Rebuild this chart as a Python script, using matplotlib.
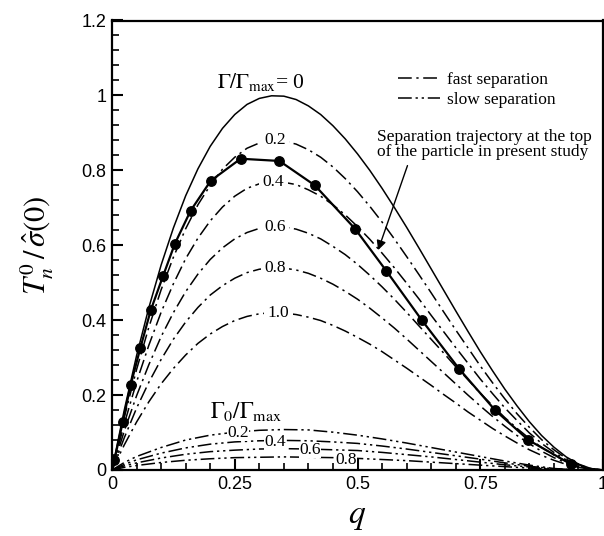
import matplotlib
matplotlib.use("Agg")
import matplotlib.pyplot as plt
import numpy as np
from matplotlib.ticker import MultipleLocator
from matplotlib.lines import Line2D

plt.rcParams['mathtext.fontset'] = 'stix'
plt.rcParams['font.family'] = 'Liberation Sans'

# values, q grid every 0.025
q = np.linspace(0, 1, 41)
t_gamma0 = [0, .160, .305, .433, .547, .646, .732, .804, .864, .912, .949, .976,
            .992, .999, .998, .989, .972, .949, .919, .884, .844, .800, .752,
            .701, .648, .593, .537, .481, .425, .370, .316, .265, .216, .171,
            .129, .092, .061, .035, .016, .004, 0]
t_fast = {
    '0.2': [0, .141, .268, .381, .481, .568, .644, .708, .760, .803, .835, .859,
            .873, .879, .878, .870, .855, .835, .809, .778, .743, .704, .662,
            .617, .570, .522, .473, .423, .374, .326, .278, .233, .190, .150,
            .114, .081, .054, .031, .014, .004, 0],
    '0.4': [0, .123, .235, .333, .421, .497, .564, .619, .665, .702, .731, .752,
            .764, .769, .768, .762, .748, .731, .708, .681, .650, .616, .579,
            .540, .499, .457, .413, .370, .327, .285, .243, .204, .166, .132,
            .099, .071, .047, .027, .012, .003, 0],
    '0.6': [0, .104, .198, .281, .356, .420, .476, .523, .562, .593, .617, .634,
            .645, .649, .649, .643, .632, .617, .597, .575, .549, .520, .489,
            .456, .421, .385, .349, .313, .276, .241, .205, .172, .140, .111,
            .084, .060, .040, .023, .010, .003, 0],
    '0.8': [0, .086, .165, .234, .295, .349, .395, .434, .467, .492, .512, .527,
            .536, .539, .539, .534, .525, .512, .496, .477, .456, .432, .406,
            .379, .350, .320, .290, .260, .230, .200, .171, .143, .117, .092,
            .070, .050, .033, .019, .009, .002, 0],
    '1.0': [0, .067, .128, .182, .230, .271, .307, .338, .363, .383, .399, .410,
            .417, .420, .419, .415, .408, .399, .386, .371, .354, .336, .316,
            .294, .272, .249, .226, .202, .179, .155, .133, .111, .091, .072,
            .054, .039, .026, .015, .007, .002, 0],
}
fast_label_pos = {'0.2': (0.332, 0.88), '0.4': (0.329, 0.769), '0.6': (0.332, 0.649),
                  '0.8': (0.332, 0.538), '1.0': (0.339, 0.42)}

q_slow = [0, .025, .05, .1, .15, .2, .25, .3, .35, .4, .45, .5, .55, .6, .65,
          .7, .75, .8, .85, .9, .95]
t_slow = {
    '0.2': [0, .02, .036, .06, .08, .093, .101, .106, .108, .107, .101, .093,
            .083, .072, .06, .048, .036, .024, .013, .004, 0],
    '0.4': [0, .015, .027, .045, .059, .069, .075, .078, .079, .078, .075, .071,
            .064, .056, .047, .038, .029, .019, .01, .003, 0],
    '0.6': [0, .011, .019, .032, .042, .049, .053, .056, .057, .056, .054, .052,
            .047, .041, .035, .028, .021, .014, .008, .002, 0],
    '0.8': [0, .007, .012, .02, .026, .03, .033, .034, .035, .034, .033, .031,
            .028, .025, .021, .017, .013, .009, .005, .002, 0],
}
slow_label_pos = {'0.2': (0.257, 0.10), '0.4': (0.332, 0.076),
                  '0.6': (0.403, 0.053), '0.8': (0.476, 0.027)}

# separation trajectory at the top of the particle (markers)
q_traj = [0.005, 0.022, 0.038, 0.058, 0.079, 0.104, 0.128, 0.160, 0.201, 0.262,
          0.341, 0.413, 0.495, 0.559, 0.631, 0.707, 0.78, 0.848, 0.934]
t_traj = [0.027, 0.129, 0.227, 0.327, 0.427, 0.518, 0.604, 0.692, 0.772, 0.831,
          0.825, 0.76, 0.644, 0.531, 0.40, 0.27, 0.16, 0.08, 0.016]

fast_ls = (0, (9, 3, 1.5, 3))
slow_ls = (0, (9, 2.5, 1.5, 2.5, 1.5, 2.5))
serif = 'Liberation Serif'

fig = plt.figure(figsize=(6.04, 5.36), dpi=100)
ax = fig.add_axes([112 / 604, 66 / 536, 491 / 604, 449.5 / 536])

ax.plot(q, t_gamma0, color='black', lw=1.1)
for key, vals in t_fast.items():
    ax.plot(q, vals, color='black', lw=1.1, linestyle=fast_ls)
    x, y = fast_label_pos[key]
    ax.text(x, y, key, ha='center', va='center', fontsize=12.5, family=serif,
            bbox=dict(facecolor='white', edgecolor='none', pad=2.5))
for key, vals in t_slow.items():
    ax.plot(q_slow, vals, color='black', lw=1.1, linestyle=slow_ls)
    x, y = slow_label_pos[key]
    ax.text(x, y, key, ha='center', va='center', fontsize=12.5, family=serif,
            bbox=dict(facecolor='white', edgecolor='none', pad=0.3))

ax.plot(q_traj, t_traj, color='black', lw=1.6, marker='o', markersize=6.8)

ax.text(0.303, 1.035, r'$\Gamma/\Gamma_{\rm max}$= 0', ha='center', va='center',
        fontsize=15.5, family=serif)
ax.text(0.273, 0.155, r'$\Gamma_0/\Gamma_{\rm max}$', ha='center', va='center',
        fontsize=16.5)

ax.annotate('Separation trajectory at the top\nof the particle in present study',
            xy=(0.542, 0.587), xytext=(0.54, 0.869), ha='left', va='center',
            fontsize=12.5, family=serif, linespacing=0.95,
            arrowprops=dict(arrowstyle='-|>', color='black', lw=1.0,
                            mutation_scale=14, shrinkA=2, shrinkB=0,
                            relpos=(0.15, 0.0)))

handles = [Line2D([], [], color='black', lw=1.1, linestyle=fast_ls),
           Line2D([], [], color='black', lw=1.1, linestyle=slow_ls)]
ax.legend(handles, ['fast separation', 'slow separation'], loc='upper left',
          bbox_to_anchor=(0.5825, 0.885), frameon=False, borderpad=0,
          borderaxespad=0, handlelength=2.4, handletextpad=0.45,
          labelspacing=0.2, prop={'family': serif, 'size': 12.5})

ax.set_xlim(0, 1)
ax.set_ylim(0, 1.2)
ax.xaxis.set_minor_locator(MultipleLocator(0.05))
ax.yaxis.set_minor_locator(MultipleLocator(0.04))
ax.set_xticks([0, 0.25, 0.5, 0.75, 1.0])
ax.set_xticklabels(['0', '0.25', '0.5', '0.75', '1'])
ax.set_yticks([0, 0.2, 0.4, 0.6, 0.8, 1.0, 1.2])
ax.set_yticklabels(['0', '0.2', '0.4', '0.6', '0.8', '1', '1.2'])
ax.tick_params(which='major', direction='in', length=8, width=1.5,
               labelsize=13, pad=4, top=False, right=False)
ax.tick_params(which='minor', direction='in', length=5, width=1.2,
               top=False, right=False)
for s in ax.spines.values():
    s.set_linewidth(1.6)

ax.set_xlabel(r'$q$', fontsize=24, labelpad=6)
ax.set_ylabel(r'$T_n^0\,/\,\hat{\sigma}(0)$', fontsize=22, labelpad=18)

fig.savefig('out.png', dpi=100)
